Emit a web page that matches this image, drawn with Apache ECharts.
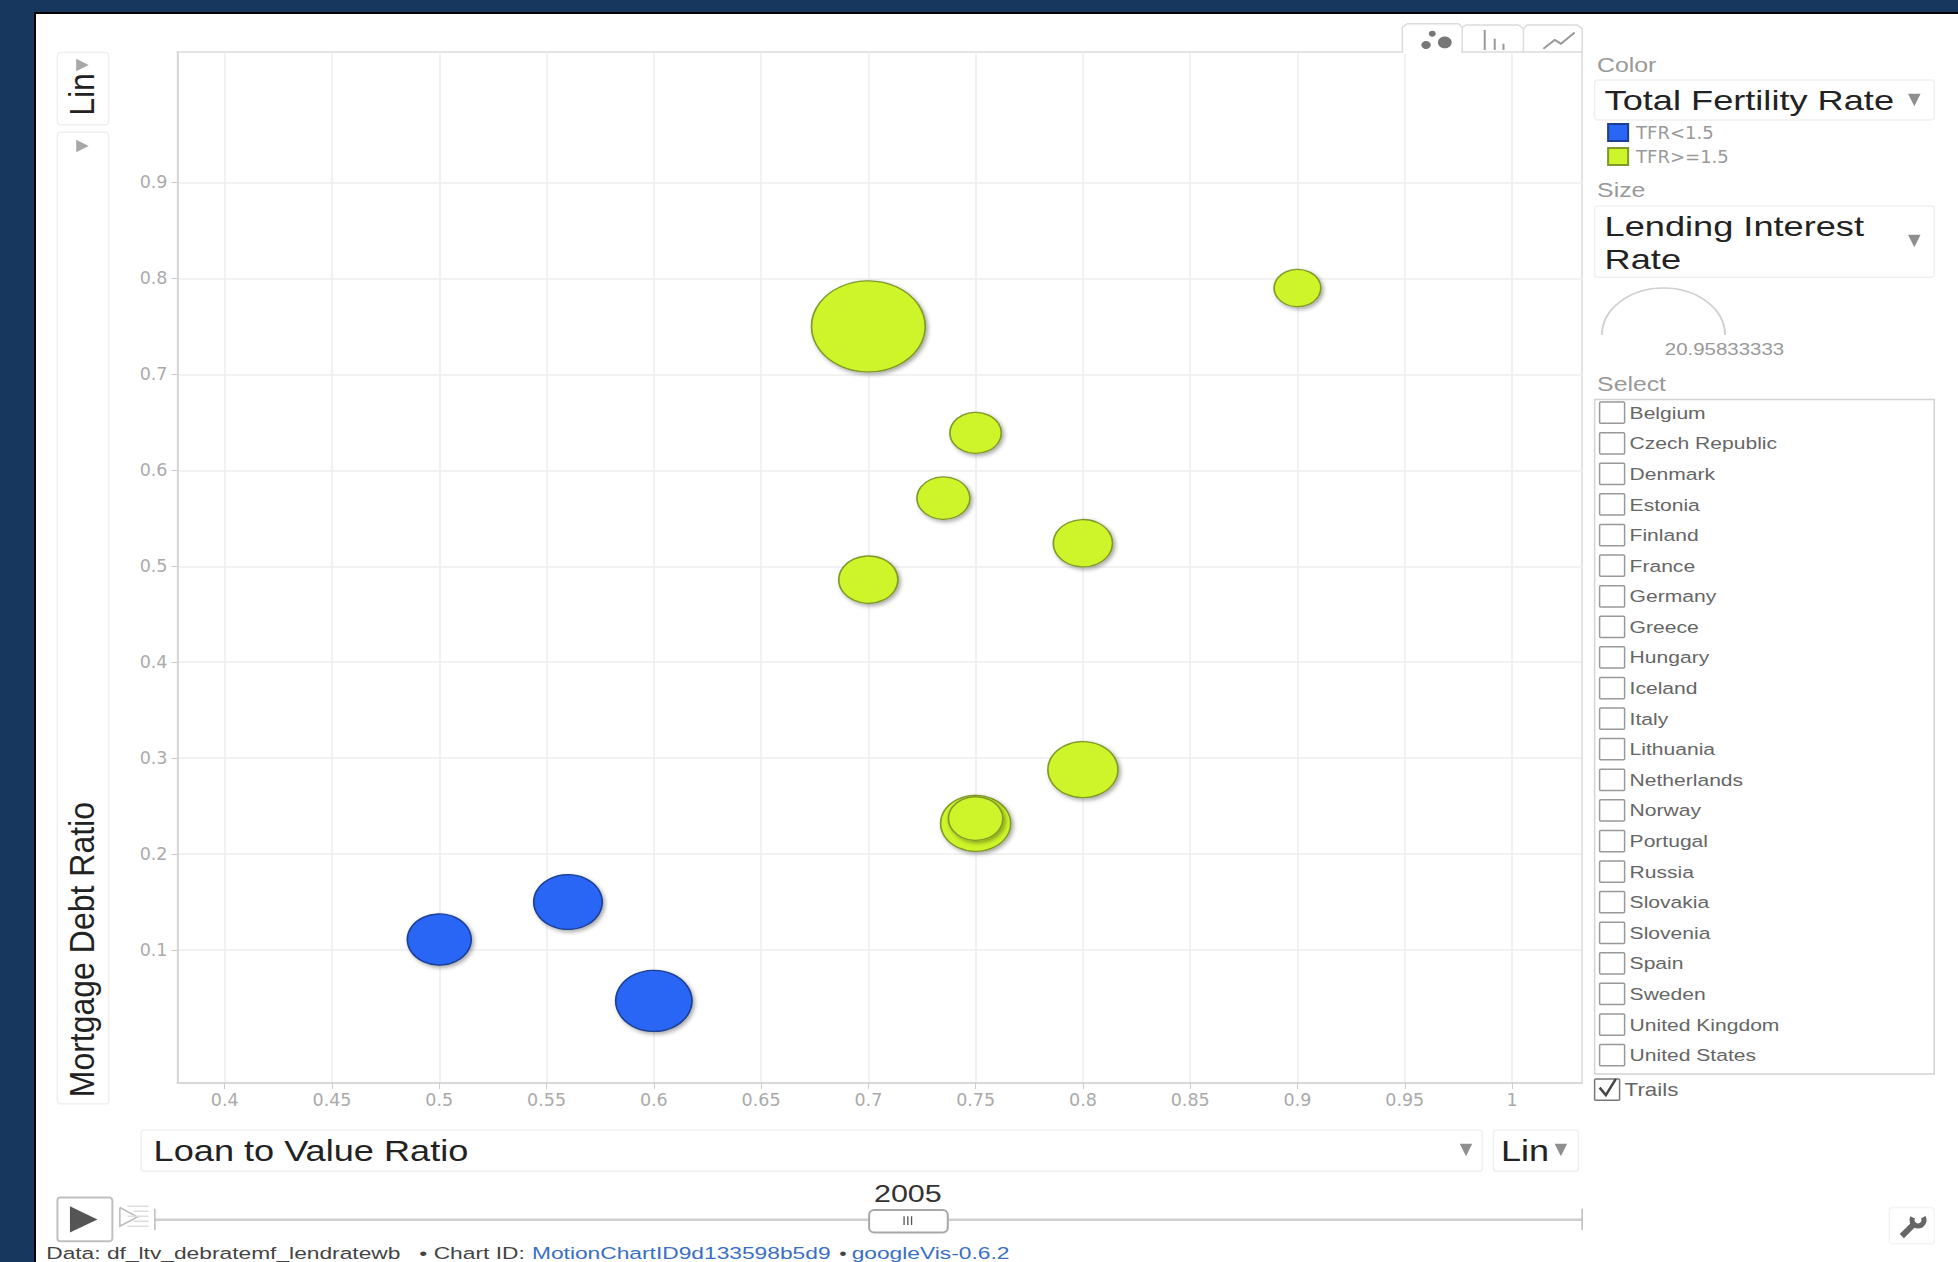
<!DOCTYPE html>
<html><head><meta charset="utf-8">
<style>
html,body{margin:0;padding:0;background:#17375e;width:1958px;height:1262px;overflow:hidden}
#panel{position:absolute;left:34px;top:12px;width:1922px;height:1248px;background:#fff;border-left:2px solid #000;border-top:2px solid #000}
#chart{position:absolute;left:0;top:0;width:1958px;height:1262px}
</style>
<script src="https://cdn.jsdelivr.net/npm/echarts@6/dist/echarts.min.js"></script>
</head><body><div id="panel"></div><div id="chart"></div>
<script>
// ---- data ----
const lowLtv   = [0.6, 0.56, 0.5];
const lowDebt  = [0.047, 0.15, 0.111];
const lowRate  = [9.44, 7.6, 6.6];
const highLtv  = [0.7, 0.8, 0.75, 0.8, 0.7, 0.735, 0.75, 0.9, 0.75];
const highDebt = [0.75, 0.288, 0.232, 0.524, 0.486, 0.571, 0.237, 0.79, 0.639];
const highRate = [20.96, 7.96, 7.96, 5.68, 5.68, 4.55, 4.82, 3.54, 4.28];
const xTicks = [0.4,0.45,0.5,0.55,0.6,0.65,0.7,0.75,0.8,0.85,0.9,0.95,1];
const yTicks = [0.1,0.2,0.3,0.4,0.5,0.6,0.7,0.8,0.9];
const countries = ['Belgium','Czech Republic','Denmark','Estonia','Finland','France','Germany','Greece','Hungary','Iceland','Italy','Lithuania','Netherlands','Norway','Portugal','Russia','Slovakia','Slovenia','Spain','Sweden','United Kingdom','United States'];
const maxRateLabel = '20.95833333';
const year = '2005';

// ---- helpers ----
const k = 1958/1568;            // overview px -> page px
const p = v => v*k;
const SX = 1.24;                // the reference is stretched horizontally
const FONT = '"Liberation Sans", Arial, sans-serif';
const zip = (a,b,c) => a.map((v,i)=>[v,b[i],c[i]]);
const bubble = v => { const h = 91*Math.sqrt(v[2]/20.96); return [h*1.25,h]; };
const g = [];
function T(text,x,y,size,fill,o){o=o||{};
  g.push({type:'text',x:p(x),y:p(y+0.7),scaleX:o.rot?1:(o.sx||SX),scaleY:o.rot?(o.sx||SX):1,rotation:o.rot||0,z:5,
    style:{text,fill,font:(o.w||'normal')+' '+size+'px '+FONT,textAlign:o.a||'left',textVerticalAlign:'middle'}});
}
function R(x0,y0,x1,y1,o){o=o||{};
  g.push({type:'rect',shape:{x:p(x0),y:p(y0),width:p(x1-x0),height:p(y1-y0),r:o.r==null?3:o.r},z:o.z||3,
    style:{fill:o.fill||'none',stroke:o.stroke||'#f0f0f0',lineWidth:o.lw||1.5}});
}
function L(pts,stroke,lw,o){o=o||{};
  g.push({type:'polyline',shape:{points:pts.map(q=>[p(q[0]),p(q[1])])},z:o.z||4,style:{fill:'none',stroke,lineWidth:lw}});
}
function Tri(pts,fill){
  g.push({type:'polygon',shape:{points:pts.map(q=>[p(q[0]),p(q[1])])},z:4,style:{fill,stroke:'none'}});
}
const arrowD = (x,y)=>Tri([[x-5,y-5],[x+5,y-5],[x,y+5]],'#8f8f8f');
const arrowR = (x,y)=>Tri([[x-5,y-5],[x-5,y+5],[x+5,y]],'#a8a8a8');

// y-axis controls
R(46,42,87,100); arrowR(66,52); T('Lin',66,75,32,'#222',{rot:Math.PI/2,a:'center',sx:1.1});
R(46,106,87,884); arrowR(66,117);
T('Mortgage Debt Ratio',65,878,32,'#222',{rot:Math.PI/2,sx:1.12});

// chart-type tabs
L([[1123,42],[1123,22],[1127,19],[1168,19],[1171,22],[1171,42]],'#dcdcdc',1.5,{z:6});
L([[1171,22],[1174,20],[1216,20],[1220,23],[1220,42]],'#dcdcdc',1.5,{z:6});
L([[1220,23],[1223,20],[1263,20],[1267,23],[1267,42]],'#dcdcdc',1.5,{z:6});
L([[1124,42],[1170,42]],'#ffffff',3,{z:6});
[[1157,34,5.5],[1147,27,2.8],[1142,36,3.8]].forEach(c=>g.push({type:'ellipse',shape:{cx:p(c[0]),cy:p(c[1]),rx:p(c[2]),ry:p(c[2])*.85},z:6,style:{fill:'#777'}}));
L([[1189,40],[1189,24]],'#999',2,{z:6}); L([[1197,40],[1197,31]],'#999',2,{z:6}); L([[1204,40],[1204,35]],'#999',2,{z:6});
L([[1236,39],[1245,32],[1250,35],[1261,26]],'#999',2,{z:6});

// colour panel
T('Color',1279,52,20,'#999');
R(1277,64,1549,96); T('Total Fertility Rate',1285,80,27,'#222',{sx:1.34}); arrowD(1533,80);
// size panel
T('Size',1279,152,20,'#999');
R(1277,165,1549,222); T('Lending Interest',1285,181,27,'#222',{sx:1.34}); T('Rate',1285,207,27,'#222',{sx:1.34}); arrowD(1533,193);
g.push({type:'arc',x:1663.5,y:335,scaleX:1.309,shape:{cx:0,cy:0,r:47,startAngle:Math.PI,endAngle:2*Math.PI,clockwise:true},z:4,style:{fill:'none',stroke:'#d0d0d0',lineWidth:1.5}});
T(maxRateLabel,1381,279,16.5,'#999',{a:'center'});
// select list
T('Select',1279,307,20,'#999');
R(1277,320,1549,860,{stroke:'#d4d4d4',r:0});
countries.forEach((c,i)=>{
  const y = 330+i*24.5;
  R(1281,y-8,1301,y+9,{stroke:'#999',r:1,lw:1.5});
  T(c,1305,y,17,'#666');
});
R(1277,864,1297,881,{stroke:'#777',r:1,lw:1.5});
L([[1281,871],[1286,877],[1294,864]],'#444',2.5);
T('Trails',1301,872,18,'#666');

// x-axis controls
R(113,905,1187,938);
T('Loan to Value Ratio',123,921,30,'#222',{sx:1.205});
arrowD(1174,921);
R(1196,905,1264,938); T('Lin',1202,921,30,'#222',{sx:1.2}); arrowD(1250,921);

// timeline
L([[124,976.7],[1267,976.7]],'#cfcfcf',2.5);
L([[124,968],[124,985]],'#bbb',1.5); L([[1267,968],[1267,985]],'#bbb',1.5);
T(year,727,955,24,'#333',{a:'center',sx:1.27});
R(696,969,759,987,{fill:'#fff',stroke:'#a8a8a8',r:5,lw:2,z:4});
[724,727,730].forEach(x=>L([[x,974],[x,981]],'#555',1.3,{z:5}));
R(46,959,90,994,{fill:'#fff',stroke:'#c0c0c0',r:3,lw:2});
Tri([[56,966],[56,987],[78,976.5]],'#555');
L([[96,967],[96,982],[110,974.5],[96,967]],'#bbb',1.5);
[966,970,974,978,982].forEach((y,i)=>L([[i%2?107:102,y],[119,y]],'#ddd',1.5));

// footer
T('Data: df_ltv_debratemf_lendratewb   \u2022 Chart ID:',37,1003,17,'#444',{sx:1.34});
T('MotionChartID9d133598b5d9',426,1003,17,'#3a6fc4',{sx:1.34});
T('\u2022',672,1003,17,'#444');
T('googleVis-0.6.2',682,1003,17,'#3a6fc4',{sx:1.34});

// wrench
R(1513,967,1549,996,{stroke:'#f4f4f4'});
L([[1523,990],[1534,979]],'#666',6);
g.push({type:'arc',shape:{cx:p(1536),cy:p(977),r:6,startAngle:-0.5,endAngle:3.6,clockwise:true},z:5,style:{fill:'none',stroke:'#666',lineWidth:5}});

const commonSeries = {type:'scatter',symbol:'circle',symbolSize:bubble,clip:false};
const chart = echarts.init(document.getElementById('chart'),null,{renderer:'svg',width:1958,height:1262});
chart.setOption({
  backgroundColor:'transparent',animation:false,
  textStyle:{fontFamily:FONT},
  grid:{left:177.5,top:52,width:1404.5,height:1031,containLabel:false,show:true,borderColor:'#dcdcdc',borderWidth:1.5},
  legend:{orient:'vertical',left:p(1287)-5,top:p(98.5)-5,itemWidth:20,itemHeight:17,itemGap:5,icon:'rect',
    selectedMode:false,data:['TFR<1.5','TFR>=1.5'],
    textStyle:{color:'#999',fontSize:18,fontFamily:'"DejaVu Sans"',padding:[0,0,0,3]}},
  xAxis:{type:'value',min:0.378,max:1.0326,
    axisLine:{show:true,onZero:false,lineStyle:{color:'#d8d8d8',width:2}},
    axisTick:{show:true,customValues:xTicks,length:6,lineStyle:{color:'#ccc'}},
    axisLabel:{show:true,customValues:xTicks,formatter:v=>String(v),color:'#aaa',fontSize:17.5,fontFamily:'"DejaVu Sans"',margin:8},
    splitLine:{show:true,lineStyle:{color:'#eeeeee',width:1.5}}},
  yAxis:{type:'value',min:-0.0386,max:1.036,
    axisLine:{show:true,onZero:false,lineStyle:{color:'#d8d8d8',width:2}},
    axisTick:{show:true,customValues:yTicks,length:6,lineStyle:{color:'#ccc'}},
    axisLabel:{show:true,customValues:yTicks,formatter:v=>String(v),color:'#aaa',fontSize:17.5,fontFamily:'"DejaVu Sans"',margin:10},
    splitLine:{show:true,lineStyle:{color:'#eeeeee',width:1.5}}},
  graphic:{elements:g},
  series:[
    Object.assign({},commonSeries,{name:'TFR<1.5',data:zip(lowLtv,lowDebt,lowRate),
      itemStyle:{color:'#2a66f5',borderColor:'#1c3f94',borderWidth:1.5,opacity:1,shadowBlur:4,shadowOffsetX:2,shadowOffsetY:2,shadowColor:'rgba(0,0,0,0.35)'}}),
    Object.assign({},commonSeries,{name:'TFR>=1.5',data:zip(highLtv,highDebt,highRate),
      itemStyle:{color:'#cdf52a',borderColor:'#7f9a2a',borderWidth:1.5,opacity:1,shadowBlur:4,shadowOffsetX:2,shadowOffsetY:2,shadowColor:'rgba(0,0,0,0.35)'}})
  ]
});
</script></body></html>
